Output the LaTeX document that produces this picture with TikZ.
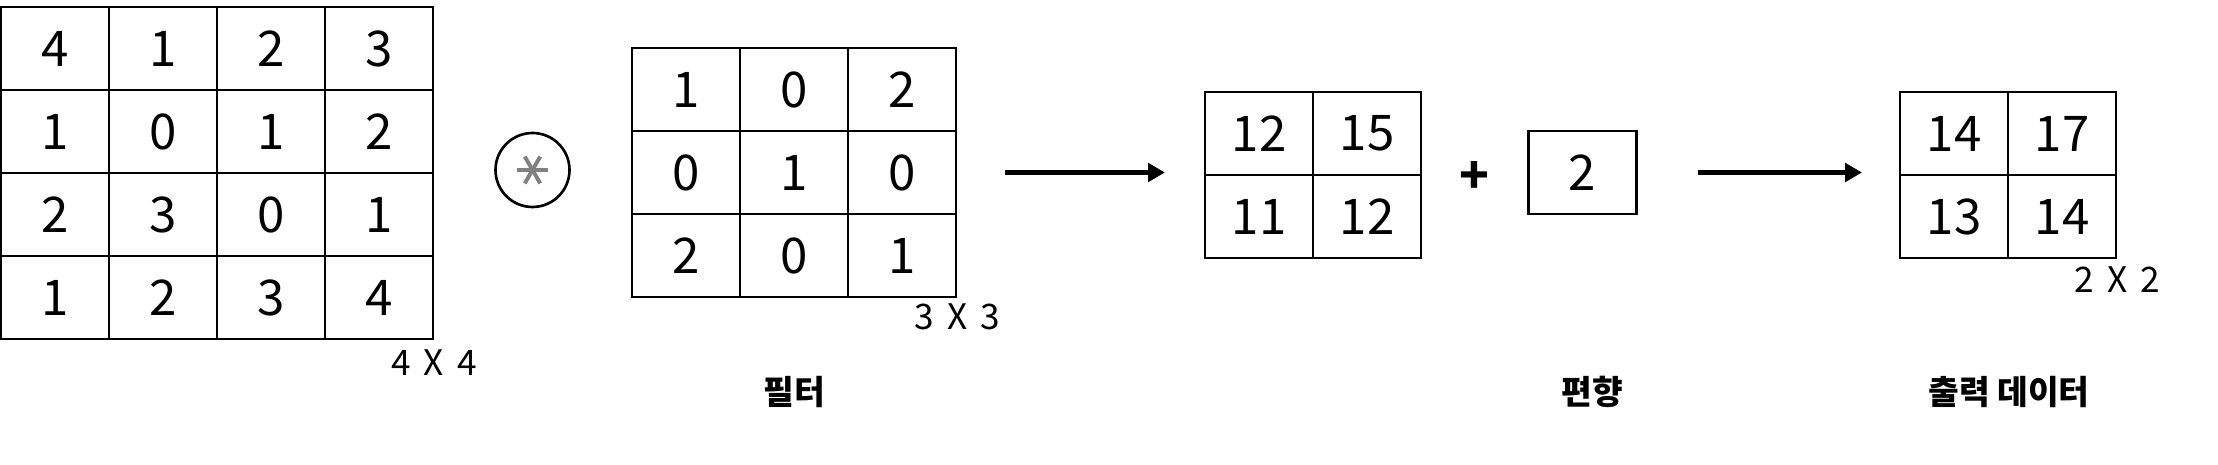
\documentclass[tikz,border=0pt]{standalone}
\usepackage{fontspec}
\setmainfont{Noto Sans CJK KR}
\usetikzlibrary{arrows.meta}
\usetikzlibrary{positioning}

\begin{document}
\begin{tikzpicture}[
  cell/.style={draw,line width=0.6pt,minimum width=1.08cm,minimum height=0.83cm,inner sep=0pt,font=\fontsize{14}{16}\selectfont},
  sizelabel/.style={inner sep=0pt,font={\fontsize{10}{12}\selectfont\spaceskip 0.38em\relax}},
  namelabel/.style={inner sep=0pt,font=\fontsize{9.5}{11}\selectfont\bfseries},
  flowarrow/.style={line width=1.6pt,-{Triangle[length=4.8pt,width=5.2pt]}}]
\useasboundingbox (0,0) rectangle (22.18,4.65);

% input 4x4
\foreach \row [count=\i] in {{4,1,2,3},{1,0,1,2},{2,3,0,1},{1,2,3,4}}
  \foreach \v [count=\j] in \row
    \node[cell] (in-\i-\j) at ({0.55+1.08*(\j-1)},{4.165-0.83*(\i-1)}) {\v};
\node[sizelabel,below=0.09cm of in-4-4.south east] (insize) {4 X 4};

% convolution sign
\node[draw,circle,line width=0.75pt,minimum size=0.74cm,inner sep=0pt] (conv) at (5.325,2.95) {};
\foreach \a in {0,60,120}
  \draw[gray,line width=1.1pt] ([shift={(\a:0.155)}]conv.center) -- ([shift={(\a+180:0.155)}]conv.center);

% filter 3x3
\foreach \row [count=\i] in {{1,0,2},{0,1,0},{2,0,1}}
  \foreach \v [count=\j] in \row
    \node[cell] (filter-\i-\j) at ({6.86+1.08*(\j-1)},{3.755-0.83*(\i-1)}) {\v};
\node[sizelabel,below=0.05cm of filter-3-3.south east] (filtersize) {3 X 3};
\node[namelabel] (filterlabel) at (7.94,0.73) {필터};

% result 2x2
\foreach \row [count=\i] in {{12,15},{11,12}}
  \foreach \v [count=\j] in \row
    \node[cell] (fmap-\i-\j) at ({12.59+1.08*(\j-1)},{3.315-0.83*(\i-1)}) {\v};

% bias
\node[font=\fontsize{14}{16}\selectfont\bfseries] (plus) at (14.74,2.87) {+};
\node[cell] (bias) at (15.825,2.925) {2};
\node[namelabel] (biaslabel) at (15.92,0.73) {편향};

% output 2x2
\foreach \row [count=\i] in {{14,17},{13,14}}
  \foreach \v [count=\j] in \row
    \node[cell] (out-\i-\j) at ({19.54+1.08*(\j-1)},{3.315-0.83*(\i-1)}) {\v};
\node[sizelabel,below=0.07cm of out-2-2.south east] (outsize) {2 X 2};
\node[namelabel] (outlabel) at (20.09,0.73) {출력 데이터};

\draw[flowarrow,shorten <=0.48cm,shorten >=0.39cm] (filter-2-3.east) -- (filter-2-3.east -| fmap-1-1.west);
\draw[flowarrow,shorten <=0.6cm,shorten >=0.37cm] (bias.east) -- (bias.east -| out-1-1.west);

\end{tikzpicture}
\end{document}
